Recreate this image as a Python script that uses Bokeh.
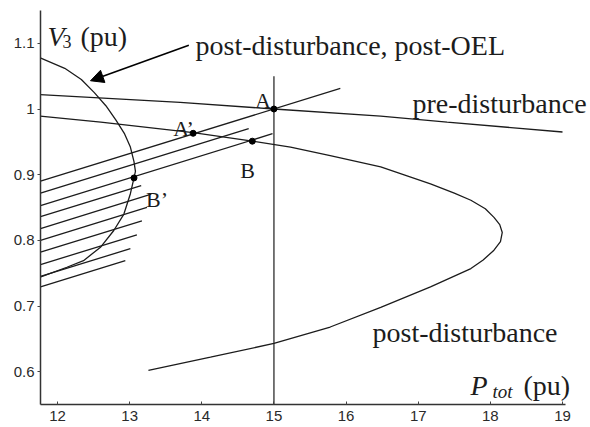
from bokeh.plotting import figure
from bokeh.models import Range1d, FixedTicker, Arrow, NormalHead
from bokeh.core.properties import value
from bokeh.embed import file_html
from bokeh.resources import INLINE

# Pre-disturbance network characteristic V3(Ptot)
pre_p = [11.76, 13.70, 15.00, 16.48, 17.40, 19.00]
pre_v = [1.022, 1.010, 1.000, 0.989, 0.980, 0.965]

# Post-disturbance characteristic: upper branch, nose, lower branch
post_p = [11.76, 12.60, 13.88, 14.70, 15.23, 15.78, 16.48, 17.17, 17.50, 17.73,
          17.93, 18.05, 18.13, 18.165, 18.14, 18.05, 17.90, 17.73, 17.17, 16.48,
          15.78, 15.00, 14.12, 13.26]
post_v = [0.989, 0.980, 0.964, 0.951, 0.942, 0.929, 0.912, 0.886, 0.872, 0.861,
          0.848, 0.835, 0.824, 0.812, 0.798, 0.785, 0.770, 0.757, 0.729, 0.698,
          0.668, 0.643, 0.622, 0.602]

# Post-disturbance, post-OEL characteristic
oel_p = [11.76, 12.10, 12.33, 12.51, 12.67, 12.81, 12.93, 13.01, 13.06, 13.08,
         13.06, 13.01, 12.92, 12.78, 12.60, 12.36, 12.13, 11.76]
oel_v = [1.078, 1.062, 1.045, 1.025, 1.005, 0.983, 0.962, 0.942, 0.920, 0.905,
         0.895, 0.871, 0.840, 0.815, 0.790, 0.769, 0.759, 0.744]

# Load characteristics for successive LTC steps: voltage at the left axis,
# power where each segment stops, common slope dV/dP
load_p_start = 11.764
load_v_start = [0.890, 0.872, 0.853, 0.836, 0.818, 0.800, 0.782, 0.763, 0.745, 0.729]
load_p_end = [15.92, 14.65, 14.98, 13.16, 13.30, 13.24, 13.17, 13.10, 13.01, 12.94]
load_slope = 0.034

# Operating points
pt_names = ["A", "A\u2019", "B", "B\u2019"]
pt_p = [15.00, 13.88, 14.70, 13.06]
pt_v = [1.000, 0.963, 0.951, 0.895]
pt_dx = [-19, -20, -12, 12]
pt_dy = [-9, -5, 29, 22]

# Vertical line at the pre-disturbance operating power
p_op = 15.0
p_op_vtop = 1.05

# Axis ticks
x_ticks = [12, 13, 14, 15, 16, 17, 18, 19]
y_ticks = [0.6, 0.7, 0.8, 0.9, 1.0, 1.1]
y_tick_labels = ["0.6", "0.7", "0.8", "0.9", "1", "1.1"]

# Curve names and their anchors (left, baseline)
curve_labels = ["post-disturbance, post-OEL", "pre-disturbance", "post-disturbance"]
curve_label_p = [13.913, 16.92, 16.366]
curve_label_v = [1.097, 1.0085, 0.6595]

# Arrow from the top label towards the post-OEL curve
arrow_tail = (13.82, 1.097)
arrow_tip = (12.457, 1.043)

INK = "#1c1c1c"
SERIF = "Liberation Serif"
PX_PER_P = 72.14  # horizontal scale of the frame, pixels per pu

p_min = 11.764
p_max = p_min + 550 / PX_PER_P

p = figure(width=590, height=427,
           x_range=Range1d(p_min, p_max), y_range=Range1d(0.55, 1.15),
           output_backend="svg", toolbar_location=None,
           min_border_left=40, min_border_right=0,
           min_border_top=10, min_border_bottom=23)
p.outline_line_color = None
p.xgrid.visible = False
p.ygrid.visible = False
p.background_fill_color = "white"
p.border_fill_color = "white"

# axes
for ax in (p.xaxis[0], p.yaxis[0]):
    ax.axis_line_color = "#333333"
    ax.axis_line_width = 1.5
    ax.major_tick_line_color = "#444444"
    ax.major_tick_line_width = 1
    ax.minor_tick_line_color = None
    ax.major_label_text_font = "Liberation Sans"
    ax.major_label_text_font_size = "15px"
    ax.major_label_text_color = "#2a2a2a"

p.xaxis.ticker = FixedTicker(ticks=x_ticks)
p.xaxis.bounds = (p_min, 19.04)
p.xaxis.major_tick_in = 3
p.xaxis.major_tick_out = 0
p.xaxis.major_label_standoff = 6

p.yaxis.ticker = FixedTicker(ticks=y_ticks)
p.yaxis.major_label_overrides = {t: s for t, s in zip(y_ticks, y_tick_labels)}
p.yaxis.major_tick_in = 0
p.yaxis.major_tick_out = 3
p.yaxis.major_label_standoff = 3

# characteristics
p.line(pre_p, pre_v, line_color=INK, line_width=1.3)
p.line(post_p, post_v, line_color=INK, line_width=1.3)
p.line(oel_p, oel_v, line_color=INK, line_width=1.3)

# load characteristic segments
xs = [[load_p_start, pe] for pe in load_p_end]
ys = [[v0, v0 + load_slope * (pe - load_p_start)] for v0, pe in zip(load_v_start, load_p_end)]
p.multi_line(xs, ys, line_color=INK, line_width=1.3)

# vertical line at P = 15
p.segment(x0=[p_op], y0=[0.55], x1=[p_op], y1=[p_op_vtop], line_color=INK, line_width=1.2)

# operating points and their names
p.scatter(pt_p, pt_v, size=6, color="black")
p.text(x=pt_p, y=pt_v, text=pt_names, x_offset=pt_dx, y_offset=pt_dy,
       text_font=value(SERIF), text_font_size="22px", text_color=INK,
       text_baseline="alphabetic", text_align="left")

# curve names
p.text(x=curve_label_p, y=curve_label_v, text=curve_labels,
       text_font=value(SERIF), text_font_size="28px", text_color=INK,
       text_baseline="alphabetic", text_align="left")

p.add_layout(Arrow(end=NormalHead(size=13, fill_color="black", line_color="black"),
                   x_start=arrow_tail[0], y_start=arrow_tail[1],
                   x_end=arrow_tip[0], y_end=arrow_tip[1],
                   line_color="black", line_width=1.6))

# axis titles: V3 (pu) at the top left, Ptot (pu) at the lower right
ylab_p, ylab_v = 11.861, 1.110
p.text(x=[ylab_p], y=[ylab_v], text=["V"], text_font=value(SERIF),
       text_font_style="italic", text_font_size="28px", text_color=INK,
       text_baseline="alphabetic")
p.text(x=[ylab_p], y=[ylab_v], text=["3"], x_offset=15, y_offset=5,
       text_font=value(SERIF), text_font_size="18px", text_color=INK,
       text_baseline="alphabetic")
p.text(x=[ylab_p], y=[ylab_v], text=["(pu)"], x_offset=33,
       text_font=value(SERIF), text_font_size="28px", text_color=INK,
       text_baseline="alphabetic")

xlab_p, xlab_v = 17.725, 0.5787
p.text(x=[xlab_p], y=[xlab_v], text=["P"], text_font=value(SERIF),
       text_font_style="italic", text_font_size="28px", text_color=INK,
       text_baseline="alphabetic")
p.text(x=[xlab_p], y=[xlab_v], text=["tot"], x_offset=22, y_offset=6,
       text_font=value(SERIF), text_font_style="italic", text_font_size="19px",
       text_color=INK, text_baseline="alphabetic")
p.text(x=[xlab_p], y=[xlab_v], text=["(pu)"], x_offset=53,
       text_font=value(SERIF), text_font_size="28px", text_color=INK,
       text_baseline="alphabetic")

open("out.html", "w").write(file_html(p, INLINE))
